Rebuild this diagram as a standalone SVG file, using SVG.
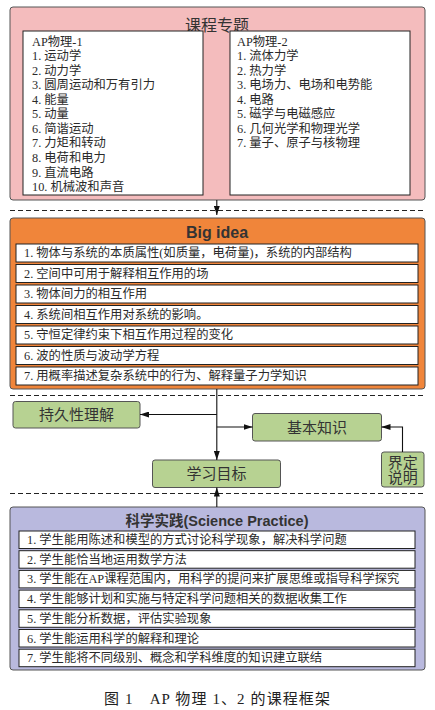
<svg xmlns="http://www.w3.org/2000/svg" width="435" height="710" viewBox="0 0 435 710">
<style>
.panel{stroke:#555;stroke-width:1}
.wbox{fill:#fff;stroke:#222;stroke-width:1}
.g{fill:#b7d292;stroke:#555;stroke-width:1}
.t{font-family:"Liberation Serif","Noto Sans CJK SC",serif;font-size:12.3px;fill:#2a2a2a}
.h{font-family:"Liberation Sans","Noto Sans CJK SC",sans-serif;font-weight:bold;fill:#333;text-anchor:middle}
.gl{font-family:"Liberation Sans","Noto Sans CJK SC",sans-serif;font-size:15px;fill:#333;text-anchor:middle}
.dash{stroke:#222;stroke-width:1;stroke-dasharray:5 3;fill:none}
.c{stroke:#111;stroke-width:1.1;fill:none}
</style>
<defs>
<marker id="ah" markerWidth="9" markerHeight="6" refX="9" refY="3" orient="auto" markerUnits="userSpaceOnUse">
<path d="M0,0 L9,3 L0,6 z" fill="#111"/>
</marker>
</defs>
<rect width="435" height="710" fill="#fff"/>

<g id="topics">
<rect class="panel" x="10" y="7" width="415" height="193" rx="3" fill="#f4bcbd"/>
<text class="h" x="217" y="31" font-size="16" font-weight="normal" style="font-weight:normal">课程专题</text>
<rect class="wbox" x="23" y="31" width="180" height="164"/>
<rect class="wbox" x="230" y="31" width="180" height="164"/>
<g class="t">
<text x="32" y="45.5">AP物理-1</text>
<text x="32" y="60">1. 运动学</text>
<text x="32" y="74.6">2. 动力学</text>
<text x="32" y="89.2">3. 圆周运动和万有引力</text>
<text x="32" y="103.7">4. 能量</text>
<text x="32" y="118.3">5. 动量</text>
<text x="32" y="132.8">6. 简谐运动</text>
<text x="32" y="147.4">7. 力矩和转动</text>
<text x="32" y="161.9">8. 电荷和电力</text>
<text x="32" y="176.5">9. 直流电路</text>
<text x="32" y="191">10. 机械波和声音</text>
<text x="237" y="45.5">AP物理-2</text>
<text x="237" y="60">1. 流体力学</text>
<text x="237" y="74.6">2. 热力学</text>
<text x="237" y="89.2">3. 电场力、电场和电势能</text>
<text x="237" y="103.7">4. 电路</text>
<text x="237" y="118.3">5. 磁学与电磁感应</text>
<text x="237" y="132.8">6. 几何光学和物理光学</text>
<text x="237" y="147.4">7. 量子、原子与核物理</text>
</g>
</g>

<g id="bigidea">
<rect class="panel" x="10" y="218" width="415" height="171" rx="3" fill="#f0853a"/>
<text class="h" x="217" y="238" font-size="16">Big idea</text>
<g>
<rect class="wbox" x="16" y="244" width="402" height="18"/>
<rect class="wbox" x="16" y="264.5" width="402" height="18"/>
<rect class="wbox" x="16" y="285" width="402" height="18"/>
<rect class="wbox" x="16" y="305.5" width="402" height="18"/>
<rect class="wbox" x="16" y="326" width="402" height="18"/>
<rect class="wbox" x="16" y="346.5" width="402" height="18"/>
<rect class="wbox" x="16" y="367" width="402" height="18"/>
</g>
<g class="t">
<text x="24" y="257.3">1. 物体与系统的本质属性(如质量，电荷量)，系统的内部结构</text>
<text x="24" y="277.8">2. 空间中可用于解释相互作用的场</text>
<text x="24" y="298.3">3. 物体间力的相互作用</text>
<text x="24" y="318.8">4. 系统间相互作用对系统的影响。</text>
<text x="24" y="339.3">5. 守恒定律约束下相互作用过程的变化</text>
<text x="24" y="359.8">6. 波的性质与波动学方程</text>
<text x="24" y="380.3">7. 用概率描述复杂系统中的行为、解释量子力学知识</text>
</g>
</g>

<g id="enduring">
<rect class="g" x="13" y="401.5" width="127" height="26.5" rx="2.5"/>
<text class="gl" x="76.5" y="420">持久性理解</text>
</g>
<g id="essential">
<rect class="g" x="252.5" y="413.5" width="129" height="27.5" rx="2.5"/>
<text class="gl" x="317" y="432.5">基本知识</text>
</g>
<g id="objectives">
<rect class="g" x="152.5" y="460" width="128" height="27.5" rx="2.5"/>
<text class="gl" x="216.5" y="479">学习目标</text>
</g>
<g id="boundary">
<rect class="g" x="381.5" y="452" width="42.5" height="35" rx="2.5"/>
<text class="gl" x="402.7" y="467.5" font-size="14">界定</text>
<text class="gl" x="402.7" y="483" font-size="14">说明</text>
</g>

<g id="practice">
<rect class="panel" x="10" y="507" width="415" height="163" rx="3" fill="#b9b9de"/>
<text class="h" x="217" y="525.5" font-size="14.5">科学实践(Science Practice)</text>
<g>
<rect class="wbox" x="19" y="531" width="396" height="17.5"/>
<rect class="wbox" x="19" y="550.7" width="396" height="17.5"/>
<rect class="wbox" x="19" y="570.4" width="396" height="17.5"/>
<rect class="wbox" x="19" y="590.1" width="396" height="17.5"/>
<rect class="wbox" x="19" y="609.8" width="396" height="17.5"/>
<rect class="wbox" x="19" y="629.5" width="396" height="17.5"/>
<rect class="wbox" x="19" y="649.2" width="396" height="17.5"/>
</g>
<g class="t">
<text x="27" y="544">1. 学生能用陈述和模型的方式讨论科学现象，解决科学问题</text>
<text x="27" y="563.7">2. 学生能恰当地运用数学方法</text>
<text x="27" y="583.4">3. 学生能在AP课程范围内，用科学的提问来扩展思维或指导科学探究</text>
<text x="27" y="603.1">4. 学生能够计划和实施与特定科学问题相关的数据收集工作</text>
<text x="27" y="622.8">5. 学生能分析数据，评估实验现象</text>
<text x="27" y="642.5">6. 学生能运用科学的解释和理论</text>
<text x="27" y="662.2">7. 学生能将不同级别、概念和学科维度的知识建立联结</text>
</g>
</g>

<g id="connectors">
<line class="dash" x1="10" y1="210.5" x2="425" y2="210.5"/>
<line class="dash" x1="10" y1="395.5" x2="425" y2="395.5"/>
<line class="dash" x1="10" y1="493.5" x2="425" y2="493.5"/>
<line class="c" x1="216.8" y1="200" x2="216.8" y2="215" marker-end="url(#ah)"/>
<line class="c" x1="216.8" y1="389" x2="216.8" y2="460" marker-end="url(#ah)"/>
<line class="c" x1="216.8" y1="414.5" x2="140" y2="414.5" marker-end="url(#ah)"/>
<line class="c" x1="216.8" y1="427" x2="252.5" y2="427" marker-end="url(#ah)"/>
<polyline class="c" points="402.5,452 402.5,427 381.5,427" marker-end="url(#ah)"/>
<line class="c" x1="216.8" y1="507" x2="216.8" y2="487.5" marker-end="url(#ah)"/>
</g>

<text x="217" y="704" text-anchor="middle" font-family="Liberation Serif,'Noto Sans CJK SC',serif" font-size="15" fill="#222" textLength="226" lengthAdjust="spacing">图 1　AP 物理 1、2 的课程框架</text>
</svg>
